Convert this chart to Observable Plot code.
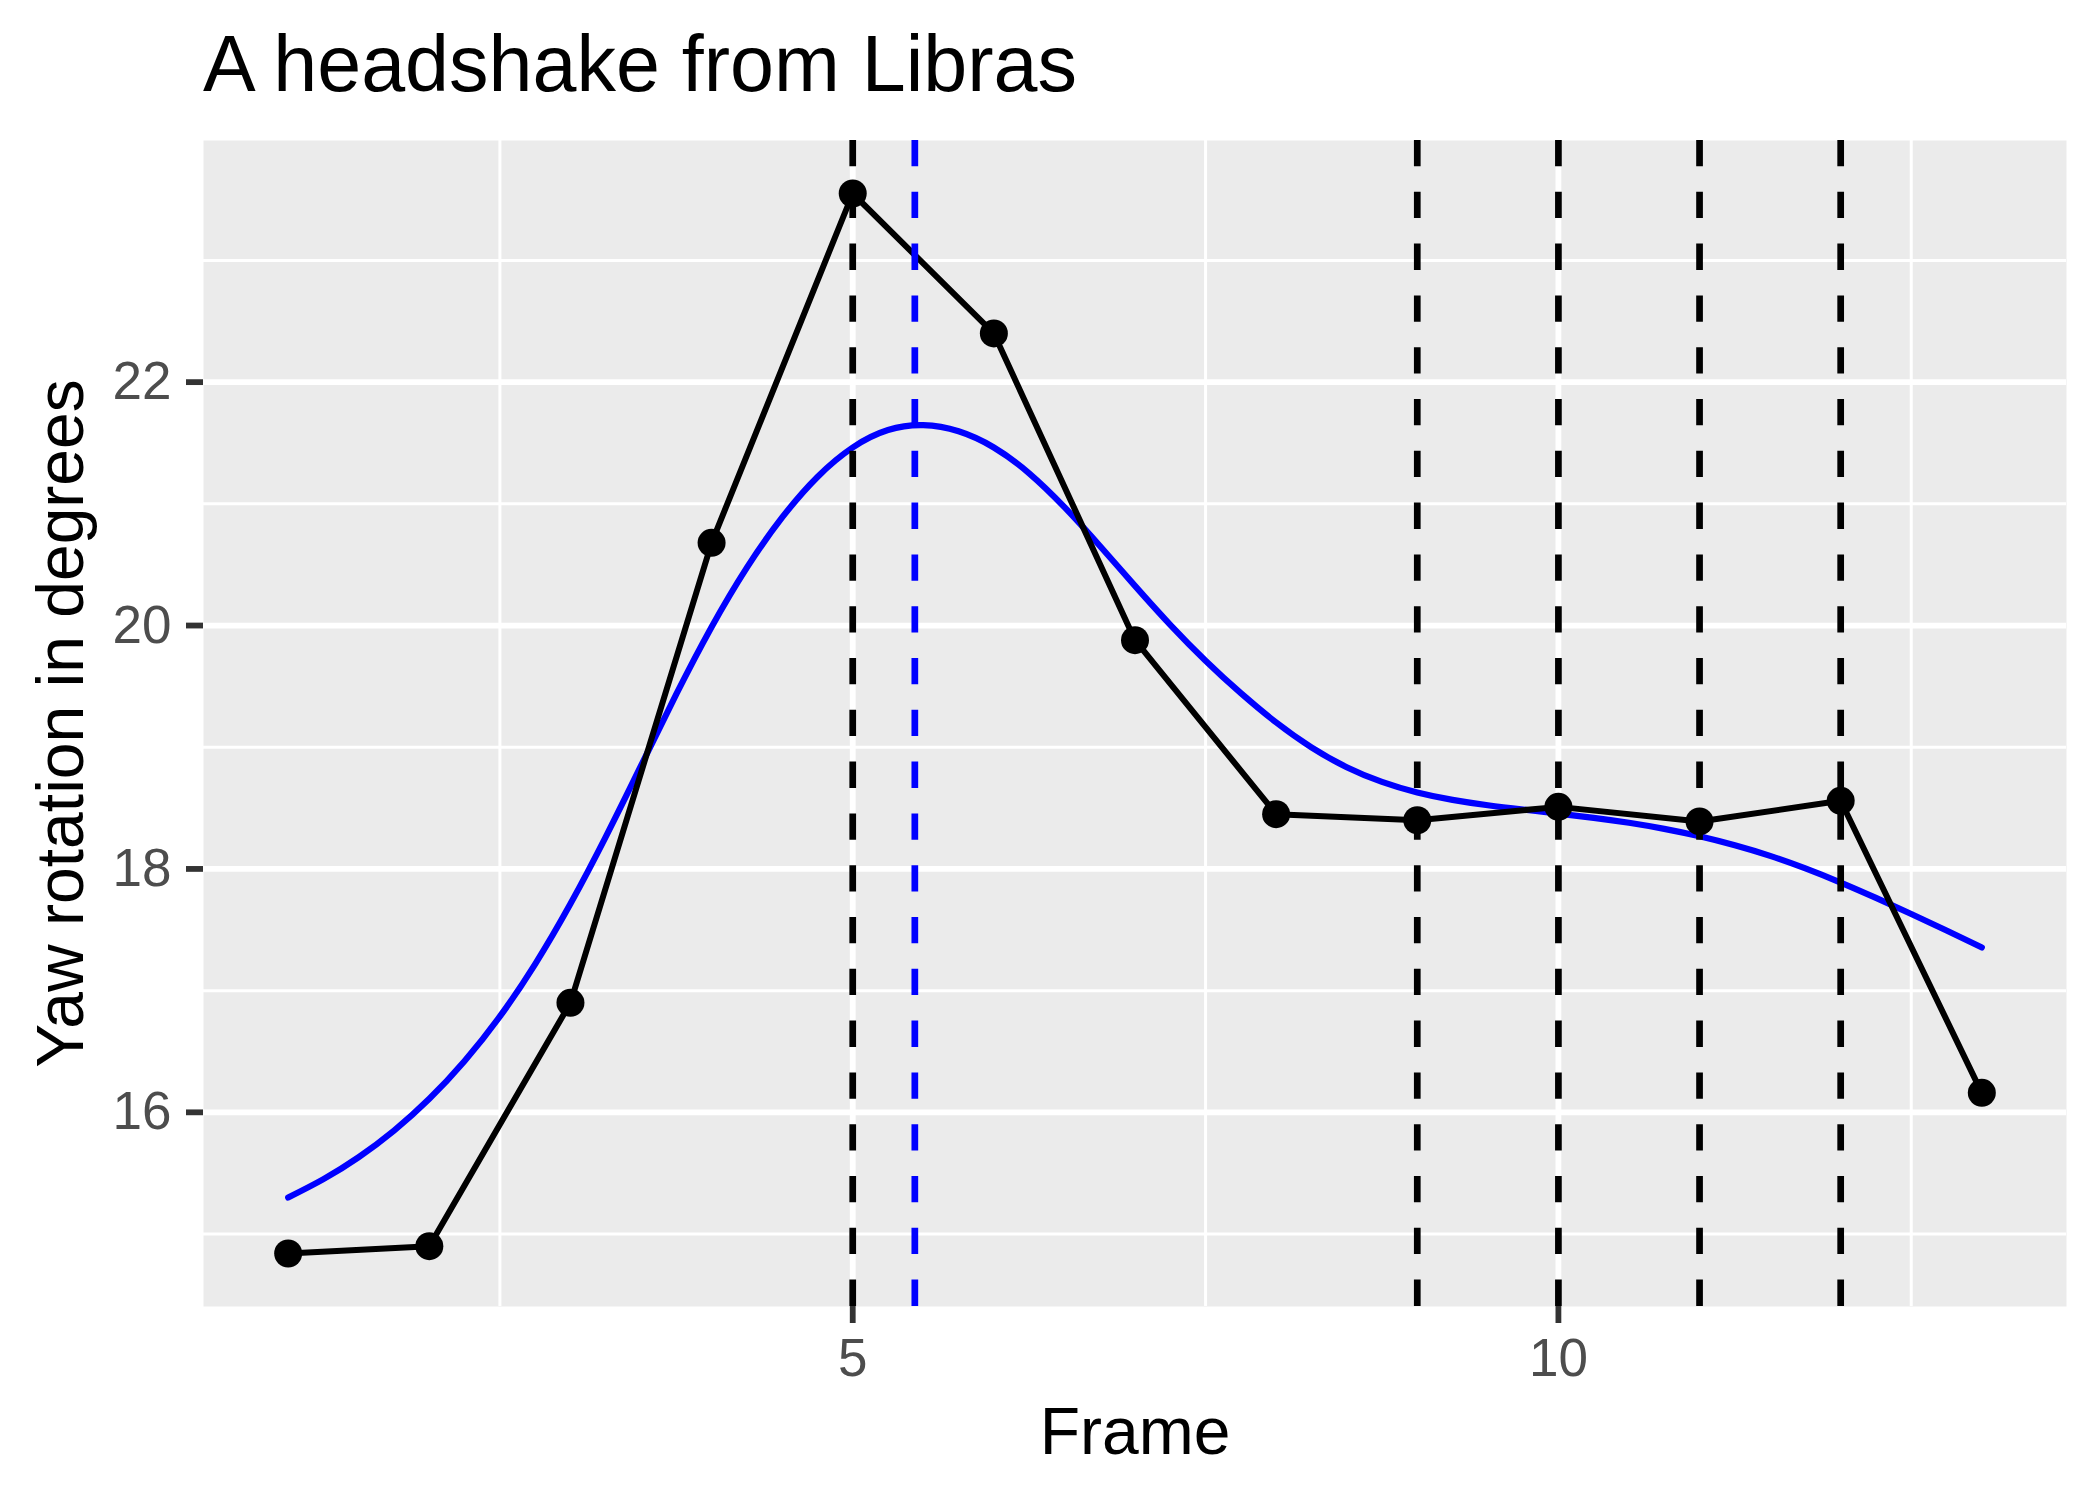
<!DOCTYPE html>
<html>
<head>
<meta charset="utf-8">
<script src="https://cdn.jsdelivr.net/npm/d3@7"></script>
<script src="https://cdn.jsdelivr.net/npm/@observablehq/plot@0.6"></script>
<style>
  html, body { margin: 0; padding: 0; background: #fff; }
  body { width: 2100px; height: 1500px; position: relative; overflow: hidden;
         font-family: "Liberation Sans", Arial, Helvetica, sans-serif; }
  #title { position: absolute; left: 203px; top: 24px; font-size: 79px; line-height: 1; color: #000; white-space: nowrap; }
  #chart { position: absolute; left: 0; top: 110px; }
</style>
</head>
<body>
<div id="title">A headshake from Libras</div>
<div id="chart"></div>
<script>
// Observed yaw per frame
const frames = [1, 2, 3, 4, 5, 6, 7, 8, 9, 10, 11, 12, 13];
const yaw = [14.84, 14.90, 16.90, 20.68, 23.55, 22.40, 19.88, 18.45, 18.40, 18.51, 18.39, 18.56, 16.16];

// Smoothed fit
const smoothFrame = [1.00, 1.25, 1.50, 1.75, 2.00, 2.25, 2.50, 2.75, 3.00, 3.25, 3.50, 3.75, 4.00, 4.25, 4.50, 4.75,
  5.00, 5.25, 5.50, 5.75, 6.00, 6.25, 6.50, 6.75, 7.00, 7.25, 7.50, 7.75, 8.00, 8.25, 8.50, 8.75,
  9.00, 9.25, 9.50, 9.75, 10.00, 10.25, 10.50, 10.75, 11.00, 11.25, 11.50, 11.75, 12.00, 12.25, 12.50, 12.75, 13.00];
const smoothYaw = [15.300, 15.451, 15.632, 15.850, 16.111, 16.422, 16.788, 17.218, 17.713, 18.263, 18.848, 19.436, 19.988, 20.476, 20.888, 21.221,
  21.463, 21.606, 21.646, 21.596, 21.463, 21.251, 20.973, 20.656, 20.326, 20.006, 19.711, 19.444, 19.204, 18.999, 18.836, 18.715,
  18.628, 18.567, 18.523, 18.488, 18.455, 18.420, 18.379, 18.329, 18.268, 18.194, 18.107, 18.004, 17.888, 17.762, 17.630, 17.494, 17.355];

// Marked frames
const dashFrames = [5, 9, 10, 11, 12];
const peakFrame = [5.44];

// Axis ticks
const xTicks = [5, 10];
const xMinor = [2.5, 7.5, 12.5];
const yTicks = [16, 18, 20, 22];
const yMinor = [15, 17, 19, 21, 23];

const obs = frames.map((f, i) => ({frame: f, yaw: yaw[i]}));
const fit = smoothFrame.map((f, i) => ({frame: f, yaw: smoothYaw[i]}));

const yMin = d3.min(yaw), yMax = d3.max(yaw), yPad = (yMax - yMin) * 0.05;
const xMin = d3.min(frames), xMax = d3.max(frames), xPad = (xMax - xMin) * 0.05;

const chart = Plot.plot({
  width: 2100,
  height: 1390,
  marginLeft: 203,
  marginRight: 34,
  marginTop: 30,
  marginBottom: 194,
  style: {fontFamily: "'Liberation Sans', Arial, Helvetica, sans-serif", background: "transparent", overflow: "visible"},
  x: {domain: [xMin - xPad, xMax + xPad], label: null},
  y: {domain: [yMin - yPad, yMax + yPad], label: null},
  marks: [
    Plot.frame({fill: "#EBEBEB", stroke: null}),
    Plot.gridX(xMinor, {stroke: "white", strokeOpacity: 1, strokeWidth: 3}),
    Plot.gridY(yMinor, {stroke: "white", strokeOpacity: 1, strokeWidth: 3}),
    Plot.gridX(xTicks, {stroke: "white", strokeOpacity: 1, strokeWidth: 5.8}),
    Plot.gridY(yTicks, {stroke: "white", strokeOpacity: 1, strokeWidth: 5.8}),
    Plot.line(fit, {x: "frame", y: "yaw", stroke: "blue", strokeWidth: 6.2, curve: "natural"}),
    Plot.line(obs, {x: "frame", y: "yaw", stroke: "black", strokeWidth: 6}),
    Plot.dot(obs, {x: "frame", y: "yaw", r: 14, fill: "black", stroke: null}),
    Plot.ruleX(dashFrames, {stroke: "black", strokeWidth: 6.7, strokeDasharray: "26.3,25.5"}),
    Plot.ruleX(peakFrame, {stroke: "blue", strokeWidth: 6.7, strokeDasharray: "26.3,25.5"}),
    Plot.axisX(xTicks, {tickSize: 17, tickPadding: 15, fontSize: 53, stroke: "#333333", strokeWidth: 5.8, fill: "#4D4D4D", tickFormat: d => String(d), label: null}),
    Plot.axisY(yTicks, {tickSize: 17, tickPadding: 15, fontSize: 53, stroke: "#333333", strokeWidth: 5.8, fill: "#4D4D4D", tickFormat: d => String(d), label: null}),
    Plot.text(["Frame"], {frameAnchor: "bottom", dy: 147, lineAnchor: "bottom", textAnchor: "middle", fontSize: 66, fill: "black"}),
    Plot.text(["Yaw rotation in degrees"], {frameAnchor: "left", dx: -121, rotate: -90, lineAnchor: "bottom", textAnchor: "middle", fontSize: 66, fill: "black"})
  ]
});
document.getElementById("chart").appendChild(chart);
</script>
</body>
</html>
